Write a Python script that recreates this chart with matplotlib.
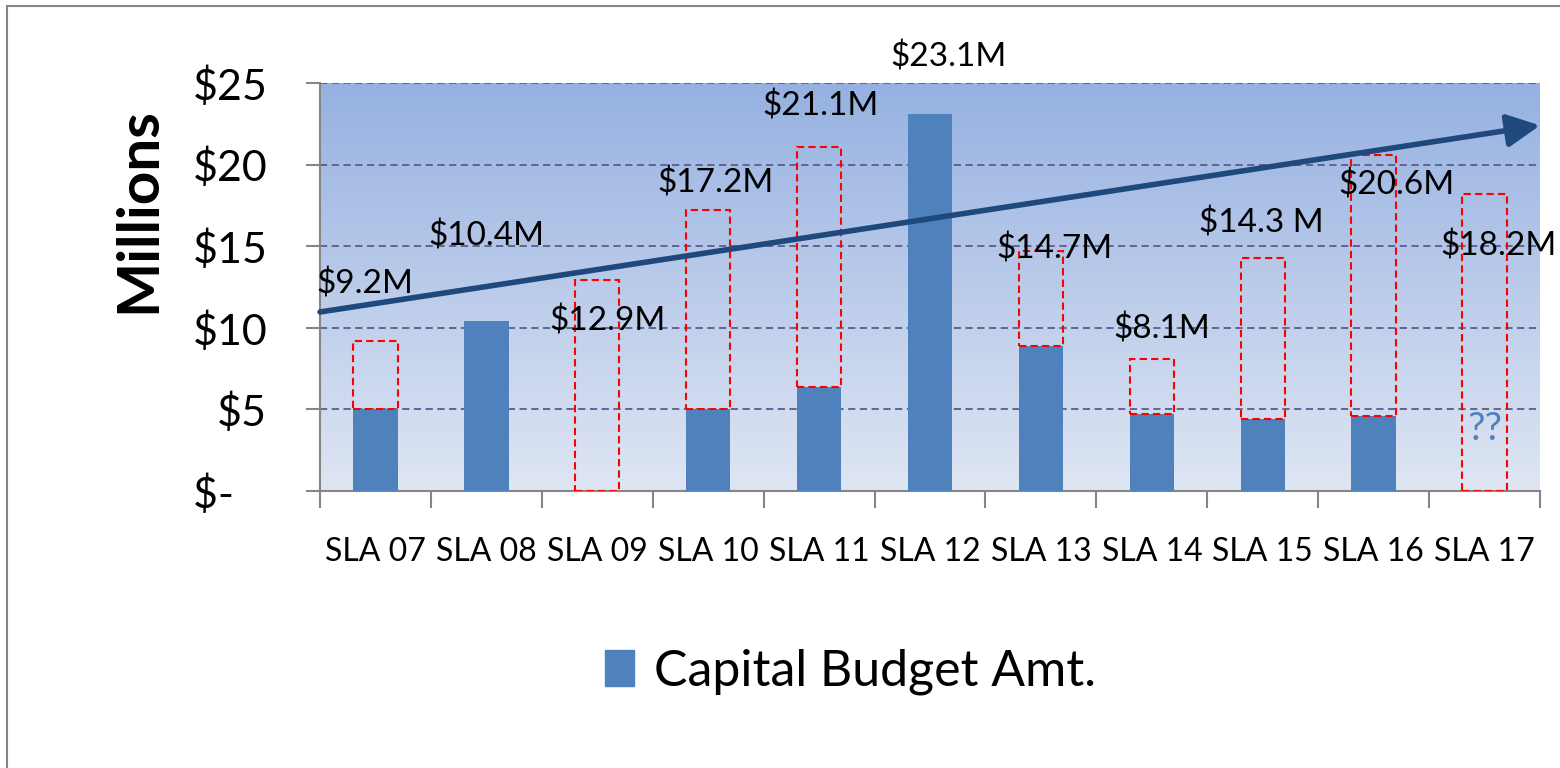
import matplotlib.pyplot as plt
import numpy as np
from matplotlib.patches import Rectangle, Patch


categories = ["SLA 07", "SLA 08", "SLA 09", "SLA 10", "SLA 11", "SLA 12",
              "SLA 13", "SLA 14", "SLA 15", "SLA 16", "SLA 17"]
budget = [5.0, 10.4, 0.0, 5.0, 6.4, 23.1, 8.9, 4.7, 4.4, 4.6, 0.0]
totals = [9.2, 10.4, 12.9, 17.2, 21.1, 23.1, 14.7, 8.1, 14.3, 20.6, 18.2]
total_labels = ["$9.2M", "$10.4M", "$12.9M", "$17.2M", "$21.1M", "$23.1M",
                "$14.7M", "$8.1M", "$14.3 M", "$20.6M", "$18.2M"]
trend_start = 10.97
trend_end = 22.4
yticks = [0, 5, 10, 15, 20, 25]
ytick_labels = ["$-   ", "$5", "$10", "$15", "$20", "$25"]

# where the labels sit (layout only)
label_dx = [-0.10, 0.0, 0.09, 0.07, 0.01, 0.17, 0.12, 0.09, -0.01, 0.21, 0.13]
label_y = [12.7, 15.6, 10.4, 18.9, 23.6, 26.6, 14.8, 9.9, 16.4, 18.75, 15.0]

BLUE = "#4F81BD"
NAVY = "#1F497D"
FONT = "Lato"

plt.rcParams["font.family"] = [FONT, "DejaVu Sans"]

fig = plt.figure(figsize=(15.6, 7.68), dpi=100)
ax = fig.add_axes([320 / 1560, 1 - 491 / 768, 1220 / 1560, 408 / 768])

x = np.arange(len(categories))
ax.set_xlim(-0.5, len(categories) - 0.5)
ax.set_ylim(0, 25)

# gradient background
top = np.array([150, 177, 225]) / 255
bottom = np.array([223, 230, 243]) / 255
t = np.linspace(0, 1, 256)[:, None]
grad = (top * (1 - t) + bottom * t)[:, None, :]
ax.imshow(grad, extent=[-0.5, len(categories) - 0.5, 0, 25], aspect="auto",
          zorder=0, origin="upper")

for y in yticks[1:]:
    ax.axhline(y, color="#5B5B8F", lw=1.3, ls=(0, (4, 2.5)), zorder=1)

ax.bar(x, budget, width=0.4, color=BLUE, zorder=3)

for i in range(len(categories)):
    if totals[i] > budget[i]:
        ax.add_patch(Rectangle((x[i] - 0.2, budget[i]), 0.4, totals[i] - budget[i],
                               fill=False, edgecolor="#FF0000", lw=1.5,
                               ls=(0, (3.5, 2)), zorder=4))
    ax.text(x[i] + label_dx[i], label_y[i], total_labels[i], ha="center",
            va="center", fontsize=24, zorder=6, clip_on=False)

ax.text(x[-1], 3.8, "??", ha="center", va="center", fontsize=28, color=BLUE, zorder=6)

ax.annotate("", xy=(len(categories) - 0.5, trend_end),
            xytext=(-0.5, trend_start),
            arrowprops=dict(arrowstyle="-|>,head_length=0.9,head_width=0.45",
                            lw=4, color=NAVY, mutation_scale=22,
                            shrinkA=0, shrinkB=0),
            annotation_clip=False, zorder=5)

for s in ["top", "right"]:
    ax.spines[s].set_visible(False)
for s in ["left", "bottom"]:
    ax.spines[s].set_color("#868686")
    ax.spines[s].set_linewidth(1.5)

ax.set_yticks(yticks)
ax.set_yticklabels(ytick_labels, fontsize=31)
ax.tick_params(axis="y", length=10, width=1.5, color="#868686", pad=28)

ax.set_xticks(np.arange(-0.5, len(categories), 1.0))
ax.set_xticklabels([])
ax.set_xticks(x, minor=True)
ax.set_xticklabels(categories, minor=True, fontsize=23)
ax.tick_params(axis="x", which="major", length=12, width=1.5, color="#868686")
ax.tick_params(axis="x", which="minor", length=0, pad=33)

fig.text(139 / 1560, 1 - 210 / 768, "Millions", rotation=90, ha="center",
         va="center", fontsize=42, fontweight="bold")

fig.legend(handles=[Patch(color=BLUE, label="Capital Budget Amt.")],
           loc="center", bbox_to_anchor=(0.545, 0.125), frameon=False,
           fontsize=36, handlelength=0.58, handleheight=0.72, handletextpad=0.4)

fig.patches.append(Rectangle((7 / 1560, -0.01), 1.0, 1 - 6 / 768 + 0.01,
                             transform=fig.transFigure, fill=False,
                             edgecolor="#868686", lw=1.5))

fig.savefig("out.png", dpi=100)
